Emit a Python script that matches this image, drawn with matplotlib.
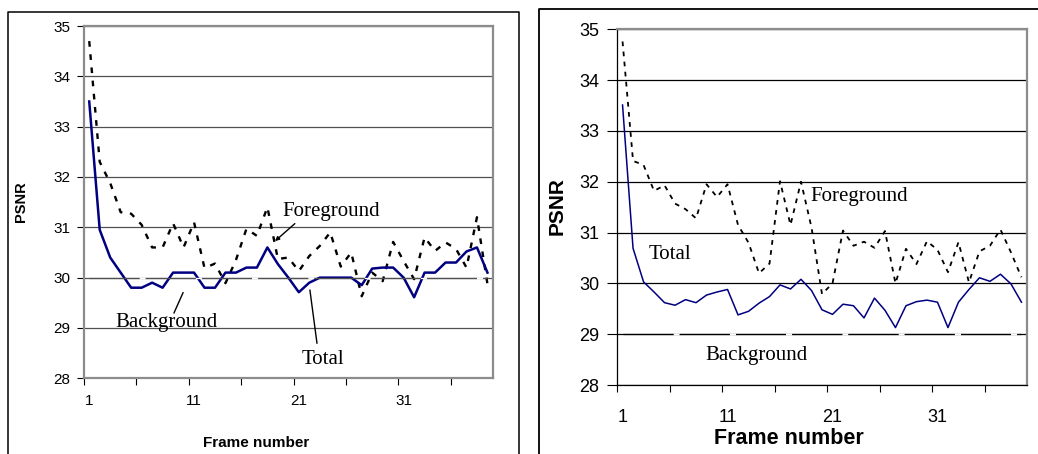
import matplotlib
matplotlib.use('Agg')
import matplotlib.pyplot as plt
from matplotlib.lines import Line2D
import numpy as np

# frame numbers 1..39
frames = np.arange(1, 40)

# left chart
left_total = [33.5, 30.95, 30.4, 30.1, 29.8, 29.8, 29.9, 29.8, 30.1, 30.1,
              30.1, 29.8, 29.8, 30.1, 30.1, 30.2, 30.2, 30.6, 30.27, 30.0,
              29.71, 29.9, 30.0, 30.0, 30.0, 30.0, 29.85, 30.18, 30.2, 30.2,
              30.0, 29.61, 30.1, 30.1, 30.3, 30.3, 30.52, 30.6, 30.1]
left_fg = [34.7, 32.3, 31.88, 31.3, 31.27, 31.05, 30.6, 30.6, 31.08, 30.6,
           31.1, 30.19, 30.28, 29.89, 30.35, 30.97, 30.83, 31.4, 30.37, 30.4,
           30.13, 30.43, 30.63, 30.9, 30.22, 30.5, 29.63, 30.1, 29.93, 30.71,
           30.33, 29.97, 30.8, 30.53, 30.7, 30.57, 30.2, 31.2, 29.87]
left_bg = [30.0] * 39

# right chart
right_total = [33.51, 30.69, 30.03, 29.83, 29.62, 29.57, 29.68, 29.62, 29.77, 29.83,
               29.88, 29.38, 29.45, 29.61, 29.74, 29.97, 29.89, 30.08, 29.86, 29.48,
               29.39, 29.59, 29.56, 29.32, 29.71, 29.47, 29.13, 29.56, 29.64, 29.67,
               29.63, 29.13, 29.63, 29.88, 30.11, 30.04, 30.18, 29.99, 29.63]
right_fg = [34.76, 32.41, 32.33, 31.82, 31.93, 31.57, 31.46, 31.28, 31.95, 31.7,
            31.95, 31.15, 30.8, 30.2, 30.39, 32.01, 31.15, 32.0, 31.1, 29.79,
            30.0, 31.04, 30.74, 30.82, 30.7, 31.03, 30.0, 30.68, 30.38, 30.83,
            30.66, 30.22, 30.81, 30.02, 30.63, 30.74, 31.06, 30.61, 30.12]
right_bg = [29.0] * 39

y_ticks = [28, 29, 30, 31, 32, 33, 34, 35]
x_labels = [1, 11, 21, 31]

sans = 'Liberation Sans'
serif = 'Liberation Serif'

fig = plt.figure(figsize=(10.38, 4.54), dpi=100)

def setup(ax, tick_size, xpad, ypad, ytick_len, left_black, grid_color):
    ax.set_xlim(0.5, 39.5)
    ax.set_ylim(28, 35)
    ax.set_yticks(y_ticks)
    ax.set_xticks(x_labels)
    ax.set_xticks(np.arange(0.5, 40, 5), minor=True)
    ax.tick_params(axis='x', which='major', length=0, pad=xpad, labelsize=tick_size)
    ax.tick_params(axis='x', which='minor', length=5, width=0.8, direction='out')
    ax.tick_params(axis='y', length=ytick_len, width=0.8, pad=ypad, labelsize=tick_size)
    for lab in ax.get_xticklabels() + ax.get_yticklabels():
        lab.set_fontfamily(sans)
    ax.grid(axis='y', color=grid_color, linewidth=0.9, zorder=1)
    ax.set_axisbelow(True)
    for side in ['top', 'right']:
        ax.spines[side].set_color('#8c8c8c')
        ax.spines[side].set_linewidth(1.6)
    for side in ['left', 'bottom']:
        if left_black:
            ax.spines[side].set_color('black')
            ax.spines[side].set_linewidth(0.9)
        else:
            ax.spines[side].set_color('#8c8c8c')
            ax.spines[side].set_linewidth(1.6)

# ---- left panel ----
ax1 = fig.add_axes([84 / 1038, 1 - 378.3 / 454, 408.7 / 1038, 352.3 / 454])
setup(ax1, 11, 11, 5, 5, False, '#505050')
ax1.plot(frames, left_fg, color='black', linewidth=1.7, linestyle=(0, (2.4, 3.2)), zorder=3)
ax1.plot(frames, left_total, color='#000080', linewidth=1.8, zorder=4)
ax1.plot(frames, left_bg, color='#505050', linewidth=0.9, linestyle=(0, (40, 5)),
         gapcolor='white', zorder=5)
ax1.text(24.07, 31.32, 'Foreground', family=serif, fontsize=15, ha='center', va='center')
ax1.annotate('', xy=(18.53, 30.69), xytext=(20.82, 31.11),
             arrowprops=dict(arrowstyle='-|>', color='black', lw=1, mutation_scale=6))
ax1.text(8.42, 29.1, 'Background', family=serif, fontsize=15, ha='center', va='center')
ax1.plot([9.95, 9.09], [29.7, 29.3], color='black', linewidth=1)
ax1.text(23.3, 28.38, 'Total', family=serif, fontsize=15, ha='center', va='center')
ax1.plot([22.06, 22.73], [29.75, 28.7], color='black', linewidth=1)
fig.text(21 / 1038, 1 - 202 / 454, 'PSNR', family=sans, fontsize=10.5, fontweight='bold',
         rotation=90, ha='center', va='center')
fig.text(256 / 1038, 1 - 443 / 454, 'Frame number', family=sans, fontsize=11,
         fontweight='bold', ha='center', va='center')

# ---- right panel ----
ax2 = fig.add_axes([617.3 / 1038, 1 - 385 / 454, 409.4 / 1038, 355.7 / 454])
setup(ax2, 13, 17, 6, 7, True, 'black')
ax2.plot(frames, right_fg, color='black', linewidth=1.3, linestyle=(0, (2.6, 3.0)), zorder=3)
ax2.plot(frames, right_total, color='#000080', linewidth=1.1, zorder=4)
ax2.plot(frames, right_bg, color='black', linewidth=0.9, linestyle=(0, (40, 5)),
         gapcolor='white', zorder=5)
ax2.text(23.5, 31.7, 'Foreground', family=serif, fontsize=15, ha='center', va='center')
ax2.text(5.5, 30.56, 'Total', family=serif, fontsize=15, ha='center', va='center')
ax2.text(13.8, 28.59, 'Background', family=serif, fontsize=15, ha='center', va='center')
fig.text(557.5 / 1038, 1 - 206 / 454, 'PSNR', family=sans, fontsize=15, fontweight='bold',
         rotation=90, ha='center', va='center')
fig.text(789 / 1038, 1 - 438 / 454, 'Frame number', family=sans, fontsize=15.5,
         fontweight='bold', ha='center', va='center')

# outer frames of the two panels
def fig_line(xs, ys, lw):
    fig.add_artist(Line2D([x / 1038 for x in xs], [1 - y / 454 for y in ys],
                          transform=fig.transFigure, color='black', linewidth=lw))

fig_line([8, 8, 518.5, 518.5], [460, 12, 12, 460], 1.1)
fig_line([539, 539, 1040], [460, 9, 9], 1.3)

fig.savefig('out.png', dpi=100)
